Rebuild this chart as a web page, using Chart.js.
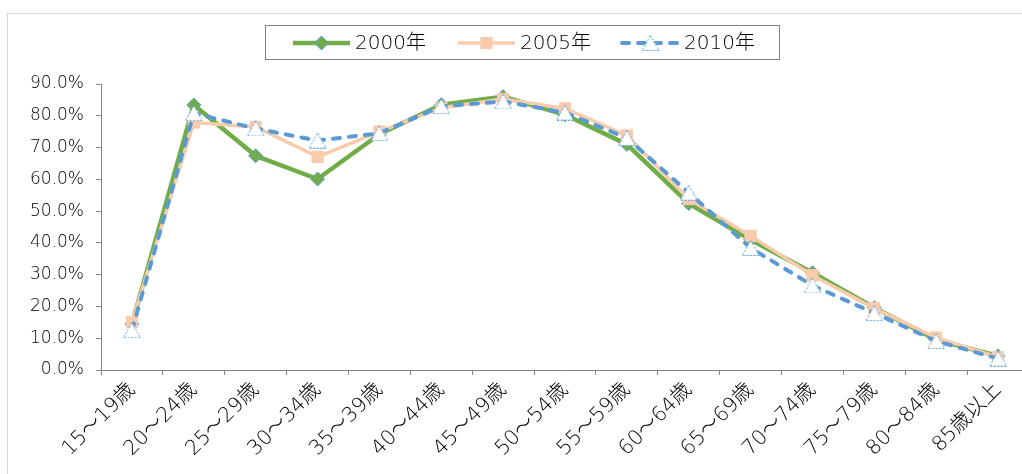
<!DOCTYPE html>
<html lang="ja">
<head>
<meta charset="utf-8">
<script src="https://cdn.jsdelivr.net/npm/chart.js@4.4.1/dist/chart.umd.min.js"></script>
<style>
  html, body { margin: 0; padding: 0; background: #fff; overflow: hidden; }
  #frame { position: absolute; left: 7px; top: 13px; border: 1px solid #d9d9d9; background: #fff; }
  canvas { display: block; }
</style>
</head>
<body>
<div id="frame"><canvas id="chart" width="1040" height="480"></canvas></div>
<script>
// age groups on the x axis
const ageGroups = ['15～19歳', '20～24歳', '25～29歳', '30～34歳', '35～39歳', '40～44歳', '45～49歳',
    '50～54歳', '55～59歳', '60～64歳', '65～69歳', '70～74歳', '75～79歳', '80～84歳', '85歳以上'];

// rates in percent
const rate2000 = [14.5, 83.4, 67.4, 60.1, 74.2, 83.5, 86.0, 80.3, 71.0, 52.4, 41.0, 30.6, 19.6, 9.5, 4.4];
const rate2005 = [15.1, 77.9, 76.5, 67.1, 75.0, 82.5, 85.3, 82.3, 73.8, 53.8, 42.2, 29.8, 19.4, 10.2, 4.0];
const rate2010 = [12.5, 80.8, 76.0, 72.2, 74.5, 83.0, 84.5, 81.0, 73.0, 55.8, 38.4, 26.6, 17.9, 9.1, 3.6];

const seriesLabels = ['2000年', '2005年', '2010年'];

const yMax = 90;
const yStep = 10;

const FONT = '"DejaVu Sans", "Noto Sans CJK JP", sans-serif';
const WEIGHT = 200;

// white triangle with a dashed blue outline, used as a point image
function makeTriangle(w, h) {
    const c = document.createElement('canvas');
    c.width = w;
    c.height = h;
    const g = c.getContext('2d');
    g.beginPath();
    g.moveTo(w / 2, 0.5);
    g.lineTo(w - 0.5, h - 0.5);
    g.lineTo(0.5, h - 0.5);
    g.closePath();
    g.fillStyle = '#ffffff';
    g.fill();
    g.setLineDash([2, 1.5]);
    g.lineWidth = 1;
    g.strokeStyle = '#5b9bd5';
    g.stroke();
    return c;
}

const triangleImg = makeTriangle(18, 16);

// legend drawn by hand: line sample with the marker in the middle
const boxLegend = {
    id: 'boxLegend',
    afterDraw(chart) {
        const ctx = chart.ctx;
        const starts = [285, 450, 614];
        const lineLen = 57;
        const cy = 29;
        ctx.save();
        ctx.strokeStyle = '#808080';
        ctx.lineWidth = 1;
        ctx.strokeRect(257.5, 11.5, 514, 34);
        chart.data.datasets.forEach((ds, i) => {
            const x0 = starts[i];
            ctx.save();
            ctx.strokeStyle = ds.borderColor;
            ctx.lineWidth = ds.borderWidth;
            ctx.lineCap = ds.borderCapStyle || 'butt';
            ctx.setLineDash(ds.borderDash || []);
            ctx.beginPath();
            ctx.moveTo(x0, cy);
            ctx.lineTo(x0 + lineLen, cy);
            ctx.stroke();
            ctx.restore();
            ctx.save();
            ctx.fillStyle = ds.pointBackgroundColor;
            ctx.strokeStyle = ds.pointBorderColor;
            Chart.helpers.drawPoint(ctx, {
                pointStyle: ds.pointStyle,
                radius: ds.pointRadius,
                rotation: 0,
                borderWidth: ds.pointBorderWidth
            }, x0 + lineLen / 2, cy);
            ctx.restore();
            ctx.fillStyle = '#000';
            ctx.font = WEIGHT + ' 20px ' + FONT;
            ctx.textBaseline = 'middle';
            ctx.fillText(ds.label, x0 + lineLen + 5, cy + 1);
        });
        ctx.restore();
    }
};

new Chart(document.getElementById('chart'), {
    type: 'line',
    data: {
        labels: ageGroups,
        datasets: [
            {
                label: seriesLabels[0],
                data: rate2000,
                borderColor: '#70ad47',
                borderWidth: 4.5,
                borderJoinStyle: 'round',
                pointStyle: 'rectRot',
                pointRadius: 7,
                pointBackgroundColor: '#70ad47',
                pointBorderColor: '#5b9bd5',
                pointBorderWidth: 1,
                order: 3
            },
            {
                label: seriesLabels[1],
                data: rate2005,
                borderColor: '#f8cbad',
                borderWidth: 3.5,
                borderJoinStyle: 'round',
                pointStyle: 'rect',
                pointRadius: 8,
                pointBackgroundColor: '#f8cbad',
                pointBorderColor: '#f8cbad',
                pointBorderWidth: 1,
                order: 2
            },
            {
                label: seriesLabels[2],
                data: rate2010,
                borderColor: '#5b9bd5',
                borderWidth: 4,
                borderDash: [7, 9],
                borderCapStyle: 'round',
                borderJoinStyle: 'round',
                pointStyle: triangleImg,
                pointRadius: 9,
                pointBackgroundColor: '#ffffff',
                pointBorderColor: '#5b9bd5',
                pointBorderWidth: 1,
                order: 1
            }
        ]
    },
    options: {
        responsive: false,
        devicePixelRatio: 1,
        animation: false,
        layout: { padding: { top: 70, right: 19, left: 0, bottom: 0 } },
        plugins: {
            legend: { display: false },
            tooltip: { enabled: false }
        },
        scales: {
            x: {
                offset: true,
                grid: { offset: true, drawOnChartArea: false, tickLength: 5, color: '#868686' },
                border: { color: '#868686' },
                ticks: {
                    autoSkip: false,
                    maxRotation: 45,
                    minRotation: 45,
                    padding: 3,
                    color: '#000',
                    font: { family: FONT, size: 20.5, weight: WEIGHT }
                },
                afterFit(scale) { scale.height = 124; }
            },
            y: {
                min: 0,
                max: yMax,
                grid: { drawOnChartArea: false, tickLength: 5, color: '#868686' },
                border: { color: '#868686' },
                ticks: {
                    stepSize: yStep,
                    padding: 12,
                    color: '#000',
                    font: { family: FONT, size: 17, weight: WEIGHT },
                    callback: v => v.toFixed(1) + '%'
                },
                afterFit(scale) { scale.width = 93; }
            }
        }
    },
    plugins: [boxLegend]
});
</script>
</body>
</html>
